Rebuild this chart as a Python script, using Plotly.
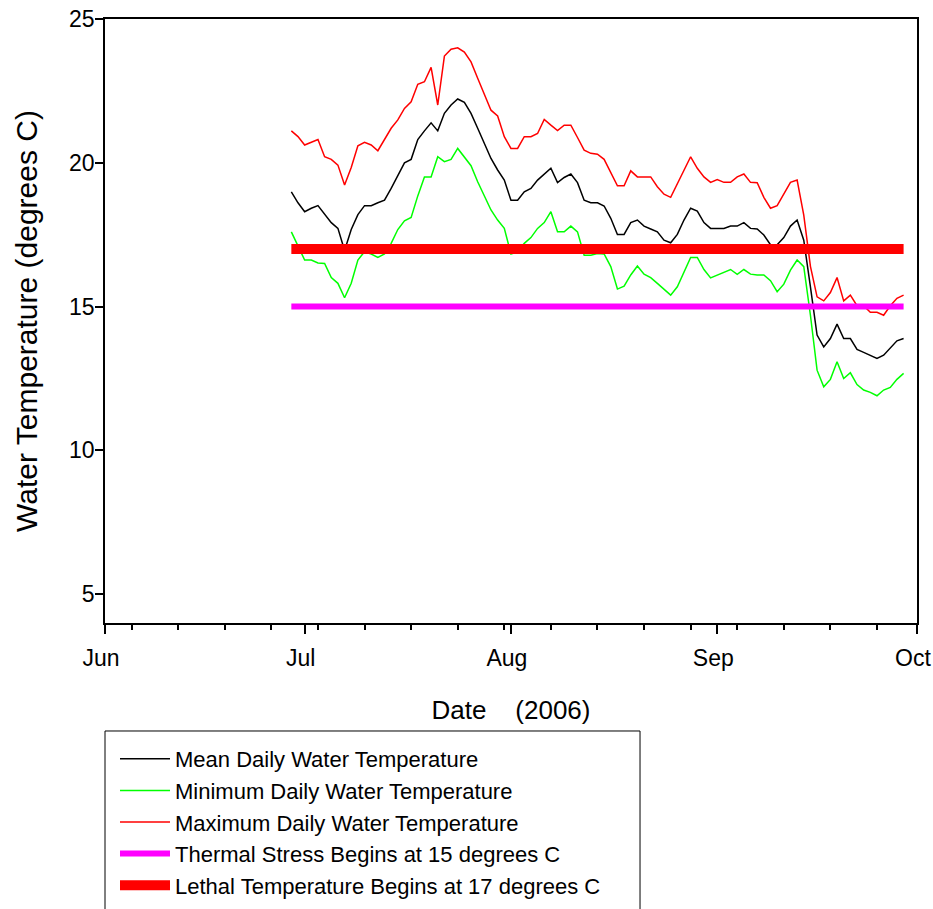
import pandas as pd
import plotly.graph_objects as go

# ---- data ----
start_date = "2006-06-29"
end_date = "2006-09-29"
dates = pd.date_range(start_date, end_date, freq="D")

mean_temp = [18.99, 18.61, 18.30, 18.42, 18.51, 18.20, 17.92, 17.72, 16.95, 17.68,
             18.20, 18.51, 18.51, 18.61, 18.70, 19.11, 19.57, 20.00, 20.12, 20.81,
             21.11, 21.39, 21.11, 21.72, 22.01, 22.22, 22.10, 21.72, 21.20, 20.68,
             20.15, 19.75, 19.40, 18.70, 18.70, 18.99, 19.11, 19.40, 19.61, 19.81,
             19.31, 19.49, 19.61, 19.31, 18.70, 18.61, 18.61, 18.50, 18.07, 17.51,
             17.51, 17.92, 18.01, 17.80, 17.70, 17.60, 17.31, 17.22, 17.51, 18.01,
             18.42, 18.32, 17.92, 17.72, 17.72, 17.72, 17.80, 17.80, 17.92, 17.72,
             17.70, 17.49, 17.15, 17.15, 17.40, 17.80, 18.01, 17.31, 15.69, 14.01,
             13.60, 13.89, 14.39, 13.89, 13.89, 13.51, 13.41, 13.31, 13.20, 13.31,
             13.55, 13.81, 13.89]

min_temp = [17.60, 17.10, 16.62, 16.62, 16.52, 16.50, 16.01, 15.81, 15.31, 15.81,
            16.62, 16.91, 16.83, 16.71, 16.83, 17.20, 17.68, 17.98, 18.10, 18.85,
            19.51, 19.51, 20.21, 20.04, 20.12, 20.50, 20.21, 19.90, 19.34, 18.82,
            18.36, 18.01, 17.72, 16.83, 16.90, 17.20, 17.40, 17.72, 17.92, 18.30,
            17.60, 17.60, 17.80, 17.60, 16.79, 16.79, 16.85, 16.83, 16.39, 15.61,
            15.71, 16.10, 16.41, 16.13, 16.01, 15.81, 15.61, 15.40, 15.69, 16.18,
            16.71, 16.71, 16.29, 16.00, 16.10, 16.19, 16.29, 16.12, 16.29, 16.13,
            16.10, 16.10, 15.90, 15.52, 15.78, 16.27, 16.62, 16.39, 14.70, 12.79,
            12.21, 12.47, 13.08, 12.50, 12.70, 12.29, 12.10, 12.02, 11.90, 12.10,
            12.19, 12.47, 12.68]

max_temp = [21.11, 20.91, 20.62, 20.71, 20.81, 20.21, 20.12, 19.92, 19.23, 19.84,
            20.59, 20.71, 20.62, 20.42, 20.81, 21.20, 21.49, 21.89, 22.12, 22.73,
            22.82, 23.32, 22.01, 23.71, 23.95, 24.00, 23.85, 23.51, 22.94, 22.38,
            21.83, 21.63, 20.91, 20.50, 20.50, 20.91, 20.91, 21.02, 21.51, 21.31,
            21.12, 21.31, 21.31, 20.88, 20.44, 20.33, 20.30, 20.12, 19.63, 19.20,
            19.20, 19.72, 19.51, 19.51, 19.51, 19.17, 18.91, 18.80, 19.29, 19.72,
            20.21, 19.81, 19.51, 19.32, 19.42, 19.32, 19.32, 19.51, 19.61, 19.32,
            19.31, 18.80, 18.42, 18.51, 18.91, 19.32, 19.40, 18.18, 16.40, 15.34,
            15.20, 15.49, 16.01, 15.20, 15.40, 15.03, 15.03, 14.80, 14.80, 14.70,
            15.03, 15.29, 15.40]

thermal_stress_level = 15
lethal_level = 17

month_ticks = ["2006-06-01", "2006-07-01", "2006-08-01", "2006-09-01", "2006-10-01"]
month_labels = ["Jun", "Jul", "Aug", "Sep", "Oct"]
y_ticks = [5, 10, 15, 20, 25]

series_names = ["Mean Daily Water Temperature",
                "Minimum Daily Water Temperature",
                "Maximum Daily Water Temperature",
                "Thermal Stress Begins at 15 degrees C",
                "Lethal Temperature Begins at 17 degrees C"]

FONT = "Liberation Sans, Arial, sans-serif"

fig = go.Figure()
fig.add_trace(go.Scatter(x=dates, y=mean_temp, mode="lines", name=series_names[0],
                         line=dict(color="#000000", width=1.5)))
fig.add_trace(go.Scatter(x=dates, y=min_temp, mode="lines", name=series_names[1],
                         line=dict(color="#00FF00", width=1.5)))
fig.add_trace(go.Scatter(x=dates, y=max_temp, mode="lines", name=series_names[2],
                         line=dict(color="#FF0000", width=1.5)))
fig.add_trace(go.Scatter(x=[dates[0], dates[-1]],
                         y=[thermal_stress_level, thermal_stress_level],
                         mode="lines", name=series_names[3],
                         line=dict(color="#FF00FF", width=6)))
fig.add_trace(go.Scatter(x=[dates[0], dates[-1]],
                         y=[lethal_level, lethal_level],
                         mode="lines", name=series_names[4],
                         line=dict(color="#FF0000", width=10)))

fig.update_layout(
    width=933, height=909,
    margin=dict(l=105, r=16, t=19, b=286, autoexpand=False),
    paper_bgcolor="white", plot_bgcolor="white",
    font=dict(family=FONT, size=22, color="black"),
    showlegend=True,
    legend=dict(x=0, xanchor="left", y=-0.1904, yanchor="top",
                borderwidth=0, bgcolor="rgba(0,0,0,0)",
                font=dict(family=FONT, size=22, color="black"),
                itemwidth=50, indentation=10, tracegroupgap=0),
    # frame around the legend (extends past the bottom edge, as in the original)
    shapes=[dict(type="rect", xref="paper", yref="paper",
                 x0=0, x1=0.6589, y0=-0.1788, y1=-0.6,
                 line=dict(color="black", width=1), fillcolor="rgba(0,0,0,0)",
                 layer="below")],
)

fig.update_xaxes(
    type="date",
    range=["2006-06-01", "2006-10-01 00:20"],
    tickmode="array", tickvals=month_ticks, ticktext=month_labels,
    ticks="outside", ticklen=9, tickwidth=1.5, tickcolor="black",
    showline=True, linecolor="black", linewidth=1.5, mirror=True,
    showgrid=False, zeroline=False, automargin=False,
    tickfont=dict(family=FONT, size=23, color="black"),
    ticklabelstandoff=5, ticklabelshift=-4,
    minor=dict(tickmode="linear", tick0="2006-06-05", dtick=7 * 86400000,
               ticks="outside", ticklen=5, tickwidth=1.5, tickcolor="black",
               showgrid=False),
    title=dict(text="Date\u00a0\u00a0\u00a0\u00a0(2006)",
               font=dict(family=FONT, size=26, color="black"), standoff=30),
)

fig.update_yaxes(
    range=[4, 25],
    tickmode="array", tickvals=y_ticks,
    ticks="outside", ticklen=8, tickwidth=1.5, tickcolor="black",
    showline=True, linecolor="black", linewidth=1.5, mirror=True,
    showgrid=False, zeroline=False, automargin=False,
    tickfont=dict(family=FONT, size=23, color="black"),
    ticklabelstandoff=-4,
    title=dict(text="Water Temperature (degrees C)",
               font=dict(family=FONT, size=30, color="black"), standoff=23),
)

fig.write_html("out.html", config={"displayModeBar": False},
               post_script="document.body.style.margin='0';")
